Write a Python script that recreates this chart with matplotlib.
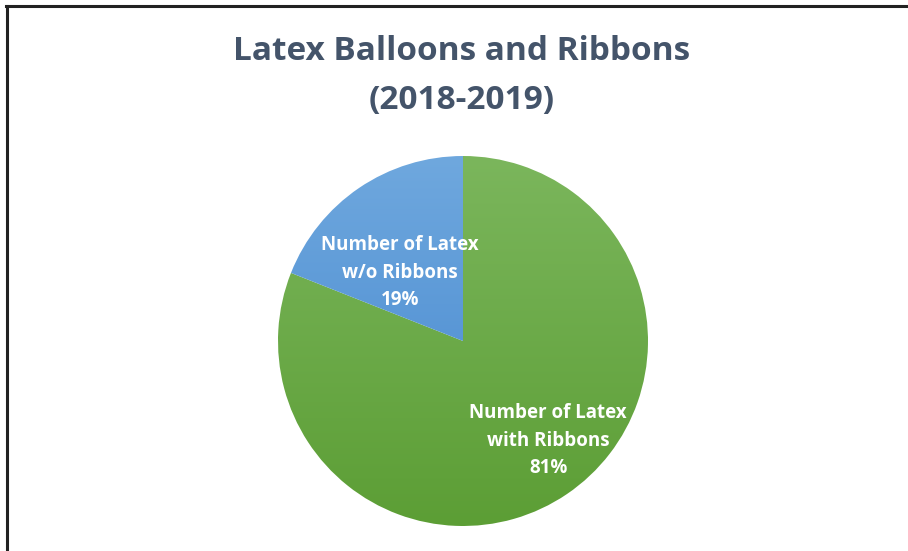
import numpy as np
import matplotlib.pyplot as plt
from matplotlib.colors import LinearSegmentedColormap

title = "Latex Balloons and Ribbons\n(2018-2019)"
categories = ["Number of Latex\nwith Ribbons", "Number of Latex\nw/o Ribbons"]
shares = [81, 19]
# top/bottom of each slice's gradient
grad_colors = [("#7BB65C", "#5C9E35"), ("#6FA8DE", "#4285CE")]
label_pos = [(0.46, -0.54), (-0.34, 0.37)]

plt.rcParams['font.family'] = ['Open Sans', 'DejaVu Sans']

fig = plt.figure(figsize=(9.08, 5.51), dpi=100)

# frame lines (top and left) like the cropped screenshot
fig.add_artist(plt.Line2D([6 / 908, 1], [1 - 5.5 / 551, 1 - 5.5 / 551], color="#222222", lw=2.2))
fig.add_artist(plt.Line2D([7 / 908, 7 / 908], [0, 1 - 5.5 / 551], color="#222222", lw=2.2))

fig.text(462 / 908, 1 - 76 / 551, title, ha="center", va="center",
         fontsize=24, fontweight="bold", color="#44546A", linespacing=1.63)

ax = fig.add_axes([(463 - 185) / 908, (551 - 526) / 551, 370 / 908, 370 / 551])
wedges, _ = ax.pie(shares, startangle=90, counterclock=False, radius=1)
ax.set_xlim(-1, 1)
ax.set_ylim(-1, 1)
ax.set_aspect("equal")
ax.axis("off")

grad = np.linspace(1, 0, 256).reshape(-1, 1)
for w, (top, bot) in zip(wedges, grad_colors):
    w.set_facecolor("none")
    w.set_edgecolor("none")
    cmap = LinearSegmentedColormap.from_list("g", [bot, top])
    im = ax.imshow(grad, cmap=cmap, extent=(-1, 1, -1, 1), aspect="auto",
                   origin="upper", zorder=1)
    im.set_clip_path(w)

for cat, val, (x, y) in zip(categories, shares, label_pos):
    ax.text(x, y, f"{cat}\n{val}%", ha="center", va="center", color="white",
            fontsize=13.5, fontweight="bold", linespacing=1.5, zorder=3)

fig.savefig("out.png", dpi=100)
